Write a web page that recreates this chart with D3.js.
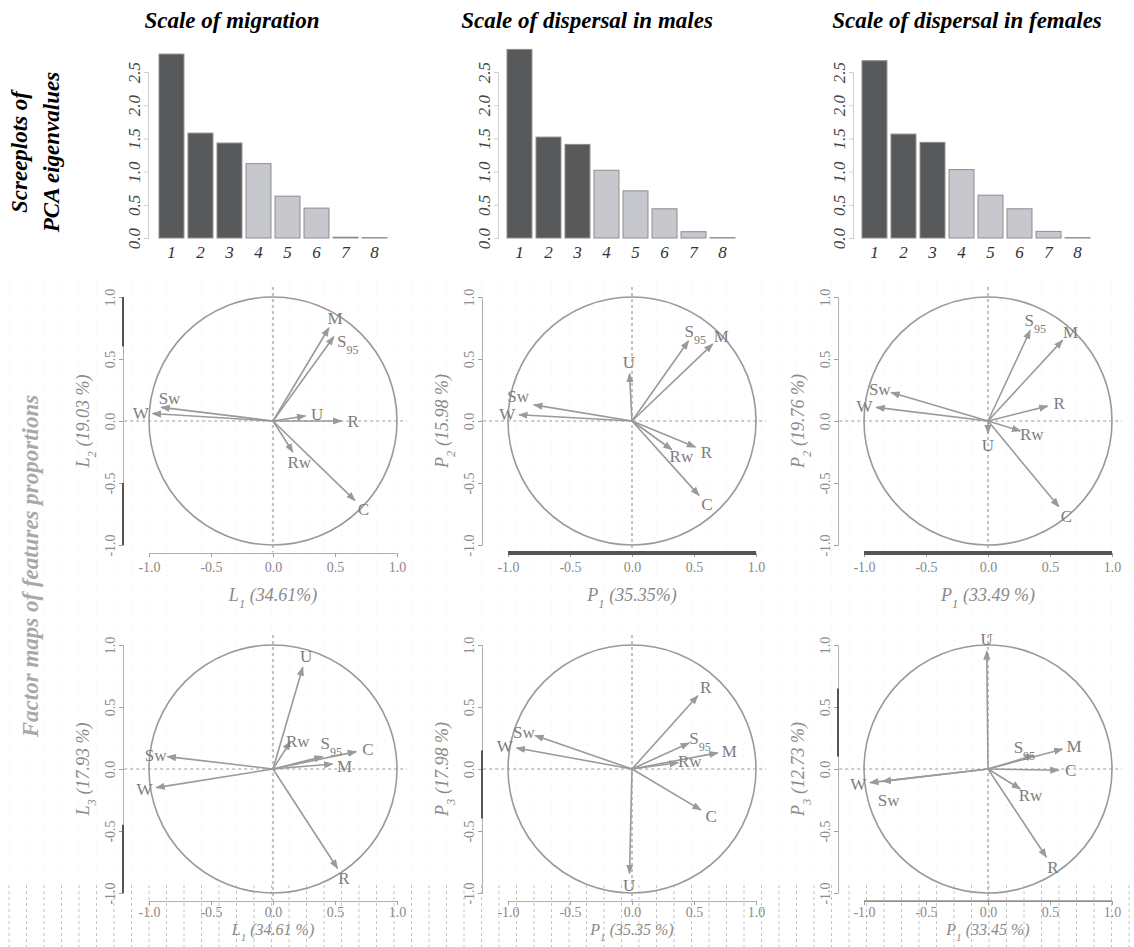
<!DOCTYPE html>
<html>
<head>
<meta charset="utf-8">
<script src="https://cdn.jsdelivr.net/npm/d3@7"></script>
<style>
  body { margin: 0; background: #fff; }
  text { font-family: "Liberation Serif", "Times New Roman", serif; }
</style>
</head>
<body>
<svg id="chart"></svg>
<script>
// ---- data ----
const components = ["1", "2", "3", "4", "5", "6", "7", "8"];
const eigenMigration = [2.77, 1.58, 1.43, 1.12, 0.63, 0.45, 0.012, 0.006];
const eigenMales = [2.84, 1.52, 1.41, 1.02, 0.71, 0.44, 0.095, 0.006];
const eigenFemales = [2.67, 1.565, 1.44, 1.03, 0.645, 0.44, 0.10, 0.006];
const retained = 3;
const screeTicks = [0, 0.5, 1, 1.5, 2, 2.5];
const panelTitles = ["Scale of migration", "Scale of dispersal in males", "Scale of dispersal in females"];

const features = ["W", "Sw", "M", "S95", "U", "R", "Rw", "C"];
// loadings [x, y] in the same order as features
const migL1L2 = [[-0.97, 0.06], [-0.90, 0.11], [0.45, 0.75], [0.49, 0.68], [0.26, 0.04], [0.55, 0.0], [0.16, -0.25], [0.66, -0.64]];
const malP1P2 = [[-0.91, 0.05], [-0.79, 0.13], [0.65, 0.62], [0.455, 0.645], [-0.02, 0.38], [0.51, -0.21], [0.32, -0.23], [0.54, -0.60]];
const femP1P2 = [[-0.90, 0.11], [-0.78, 0.23], [0.60, 0.65], [0.34, 0.73], [0.0, -0.10], [0.48, 0.12], [0.26, -0.08], [0.57, -0.69]];
const migL1L3 = [[-0.94, -0.15], [-0.85, 0.10], [0.48, 0.04], [0.40, 0.10], [0.24, 0.82], [0.52, -0.80], [0.14, 0.22], [0.67, 0.14]];
const malP1P3 = [[-0.93, 0.17], [-0.78, 0.27], [0.69, 0.13], [0.46, 0.21], [-0.02, -0.84], [0.53, 0.59], [0.37, 0.05], [0.555, -0.33]];
const femP1P3 = [[-0.95, -0.11], [-0.85, -0.10], [0.60, 0.16], [0.37, 0.11], [-0.01, 0.95], [0.47, -0.71], [0.26, -0.16], [0.57, -0.01]];
const circleTicks = [-1, -0.5, 0, 0.5, 1];

const W = 1134, H = 947;
const svg = d3.select("#chart").attr("width", W).attr("height", H);
svg.append("rect").attr("width", W).attr("height", H).attr("fill", "#fff");

// faint background grid (scan artefact look)
const gridX = d3.range(9, W, 17.5);
svg.append("g").selectAll("line").data(gridX).enter().append("line")
    .attr("x1", d => d).attr("x2", d => d)
    .attr("y1", 280).attr("y2", 885)
    .attr("stroke", "#eeeeee").attr("stroke-dasharray", "1,4");
svg.append("g").selectAll("line").data(gridX).enter().append("line")
    .attr("x1", d => d).attr("x2", d => d)
    .attr("y1", 885).attr("y2", H)
    .attr("stroke", "#c4c4c4").attr("stroke-dasharray", "3,3");

// ---- screeplots ----
const scree = [
  { values: eigenMigration, x0: 159, axisX: 148, titleX: 232 },
  { values: eigenMales, x0: 507, axisX: 498, titleX: 587 },
  { values: eigenFemales, x0: 862, axisX: 853, titleX: 967 }
];
const yScree = d3.scaleLinear().domain([0, 2.5]).range([238, 72]);

scree.forEach((p, k) => {
  const g = svg.append("g");
  const x = d3.scaleBand().domain(components).range([p.x0, p.x0 + 228]).paddingInner(0.14);

  g.append("text")
      .attr("x", p.titleX).attr("y", 28)
      .attr("text-anchor", "middle")
      .style("font-size", "23px").style("font-weight", "bold").style("font-style", "italic")
      .text(panelTitles[k]);

  g.selectAll(".bar").data(p.values).enter().append("rect")
      .attr("class", "bar")
      .attr("x", (d, i) => x(components[i]))
      .attr("y", d => yScree(d))
      .attr("width", x.bandwidth())
      .attr("height", d => yScree(0) - yScree(d))
      .attr("fill", (d, i) => i < retained ? "#58595b" : "#c7c8ce")
      .attr("stroke", "#8d8d8d").attr("stroke-width", 1);

  const ax = g.append("g")
      .attr("transform", `translate(${p.axisX},0)`)
      .call(d3.axisLeft(yScree).tickValues(screeTicks).tickSize(4).tickFormat(d => d.toFixed(1)));
  ax.select(".domain").attr("stroke", "#cfcfcf");
  ax.selectAll(".tick line").attr("stroke", "#cfcfcf");
  ax.selectAll(".tick text")
      .attr("x", 0).attr("dy", 0)
      .attr("transform", "translate(-8,0) rotate(-90)")
      .attr("text-anchor", "middle")
      .attr("fill", "#444")
      .style("font-size", "17px").style("font-style", "italic")
      .style("font-family", "'Liberation Serif', serif");

  g.selectAll(".lab").data(components).enter().append("text")
      .attr("x", d => x(d) + x.bandwidth() / 2)
      .attr("y", 258)
      .attr("text-anchor", "middle")
      .attr("fill", "#333")
      .style("font-size", "17px").style("font-style", "italic")
      .text(d => d);
});

// row labels
const rl = svg.append("text")
    .attr("transform", "translate(27,152) rotate(-90)")
    .attr("text-anchor", "middle")
    .style("font-size", "23px").style("font-weight", "bold").style("font-style", "italic");
rl.append("tspan").attr("x", 0).attr("dy", 0).text("Screeplots of");
rl.append("tspan").attr("x", 0).attr("dy", 32).text("PCA eigenvalues");

svg.append("text")
    .attr("transform", "translate(38,566) rotate(-90)")
    .attr("text-anchor", "middle")
    .attr("fill", "#a8a8a8")
    .style("font-size", "23px").style("font-weight", "bold").style("font-style", "italic")
    .text("Factor maps of features proportions");

// ---- factor maps ----
const colX = [273, 632, 988];
const rowY = [421, 769];
const R = 124;
const ink = "#9a9a9a";

const mapPanels = [
  { load: migL1L2, col: 0, row: 0, xl: ["L", "1", " (34.61%)"], yl: ["L", "2", " (19.03 %)"] },
  { load: malP1P2, col: 1, row: 0, xl: ["P", "1", " (35.35%)"], yl: ["P", "2", " (15.98 %)"] },
  { load: femP1P2, col: 2, row: 0, xl: ["P", "1", " (33.49 %)"], yl: ["P", "2", " (19.76 %)"] },
  { load: migL1L3, col: 0, row: 1, xl: ["L", "1", " (34.61 %)"], yl: ["L", "3", " (17.93 %)"] },
  { load: malP1P3, col: 1, row: 1, xl: ["P", "1", " (35.35 %)"], yl: ["P", "3", " (17.98 %)"] },
  { load: femP1P3, col: 2, row: 1, xl: ["P", "1", " (33.45 %)"], yl: ["P", "3", " (12.73 %)"] }
];
// axis rendering quirks of the scanned figure (dark stretches of axis line)
const axisInk = [
  { darkY: [[0.6, 1.0], [-0.5, -1.0]] },
  { thickX: true },
  { thickX: true },
  { darkY: [[-0.45, -1.0]] },
  { darkY: [[0.15, -0.4]] },
  { darkY: [[0.65, 0.1]], darkX: true }
];
// label nudges in px, keyed "panel:feature"
const labelShift = {
  "0:S95": [7, 14], "0:Sw": [20, -8],
  "1:Sw": [-4, -7],
  "3:Rw": [1, 9], "3:S95": [-3, -11], "3:M": [0, 3],
  "5:S95": [-21, -5], "5:Sw": [18, 17]
};
const titleOff = [180, 166];
const tickPad = [5, 2];

svg.append("defs").append("marker")
    .attr("id", "arrow").attr("viewBox", "0 -4 8 8")
    .attr("refX", 7).attr("refY", 0)
    .attr("markerWidth", 6).attr("markerHeight", 6)
    .attr("orient", "auto")
  .append("path").attr("d", "M0,-3L8,0L0,3").attr("fill", ink);

function subLabel(sel, parts, size) {
  sel.append("tspan").text(parts[0]);
  sel.append("tspan").attr("baseline-shift", "sub").style("font-size", (size * 0.7) + "px").text(parts[1]);
  sel.append("tspan").text(parts[2]);
}

mapPanels.forEach((p, k) => {
  const cx = colX[p.col], cy = rowY[p.row];
  const g = svg.append("g").attr("transform", `translate(${cx},${cy})`);
  const sx = d3.scaleLinear().domain([-1, 1]).range([-R, R]);
  const sy = d3.scaleLinear().domain([-1, 1]).range([R, -R]);
  const st = axisInk[k];

  g.append("line").attr("x1", sx(-1.2)).attr("x2", sx(1.08)).attr("y1", sy(0)).attr("y2", sy(0))
      .attr("stroke", ink).attr("stroke-dasharray", "3,3").attr("stroke-width", 1.2);
  g.append("line").attr("x1", sx(0)).attr("x2", sx(0)).attr("y1", sy(1.08)).attr("y2", sy(-1.06))
      .attr("stroke", ink).attr("stroke-dasharray", "3,3").attr("stroke-width", 1.2);

  g.append("circle").attr("cx", sx(0)).attr("cy", sy(0)).attr("r", sx(1) - sx(0))
      .attr("fill", "none").attr("stroke", ink).attr("stroke-width", 1.6);

  const ya = g.append("g").attr("transform", "translate(-150,0)")
      .call(d3.axisLeft(sy).tickValues(circleTicks).tickSize(4).tickFormat(d => d.toFixed(1)));
  ya.selectAll(".tick text")
      .attr("x", 0).attr("dy", 0)
      .attr("transform", "translate(-8,0) rotate(-90)")
      .attr("text-anchor", "middle");
  const xa = g.append("g").attr("transform", "translate(0,132)")
      .call(d3.axisBottom(sx).tickValues(circleTicks).tickSize(4).tickPadding(tickPad[p.row]).tickFormat(d => d.toFixed(1)));
  [ya, xa].forEach(a => {
    a.select(".domain").attr("stroke", "#b0b0b0");
    a.selectAll(".tick line").attr("stroke", "#a0a0a0");
    a.selectAll(".tick text").attr("fill", "#8a8a8a")
        .style("font-size", "14px").style("font-family", "'Liberation Serif', serif");
  });
  (st.darkY || []).forEach(r => {
    g.append("line").attr("x1", -150).attr("x2", -150)
        .attr("y1", sy(r[0])).attr("y2", sy(r[1]))
        .attr("stroke", "#555").attr("stroke-width", 2);
  });
  if (st.thickX) {
    g.append("line").attr("x1", sx(-1)).attr("x2", sx(1)).attr("y1", 132).attr("y2", 132)
        .attr("stroke", "#555").attr("stroke-width", 4);
  }
  if (st.darkX) {
    g.append("line").attr("x1", sx(-1)).attr("x2", sx(1)).attr("y1", 132).attr("y2", 132)
        .attr("stroke", "#666").attr("stroke-width", 1.2);
  }

  const fs = p.row === 0 ? 18 : 16;
  const xt = g.append("text").attr("x", 0).attr("y", titleOff[p.row])
      .attr("text-anchor", "middle").attr("fill", "#8a8a8a")
      .style("font-size", fs + "px").style("font-style", "italic");
  subLabel(xt, p.xl, fs);
  const yt = g.append("text").attr("transform", "translate(-184,0) rotate(-90)")
      .attr("text-anchor", "middle").attr("fill", "#8a8a8a")
      .style("font-size", "18px").style("font-style", "italic");
  subLabel(yt, p.yl, 18);

  const vec = p.load.map((d, i) => ({ name: features[i], x: d[0], y: d[1] }));
  g.selectAll(".arr").data(vec).enter().append("line")
      .attr("x1", sx(0)).attr("y1", sy(0))
      .attr("x2", d => sx(d.x)).attr("y2", d => sy(d.y))
      .attr("stroke", ink).attr("stroke-width", 1.6)
      .attr("marker-end", "url(#arrow)");

  vec.forEach(d => {
    const px = sx(d.x), py = sy(d.y);
    const len = Math.hypot(px, py) || 1;
    const sh = labelShift[k + ":" + d.name] || [0, 0];
    const t = g.append("text")
        .attr("x", px + px / len * 12 + sh[0])
        .attr("y", py + py / len * 12 + sh[1])
        .attr("dy", "0.35em")
        .attr("text-anchor", "middle")
        .attr("fill", "#7d7d7d")
        .style("font-size", "17px");
    if (d.name === "S95") {
      t.append("tspan").text("S");
      t.append("tspan").attr("baseline-shift", "sub").style("font-size", "12px").text("95");
    } else {
      t.text(d.name);
    }
  });
});
</script>
</body>
</html>
